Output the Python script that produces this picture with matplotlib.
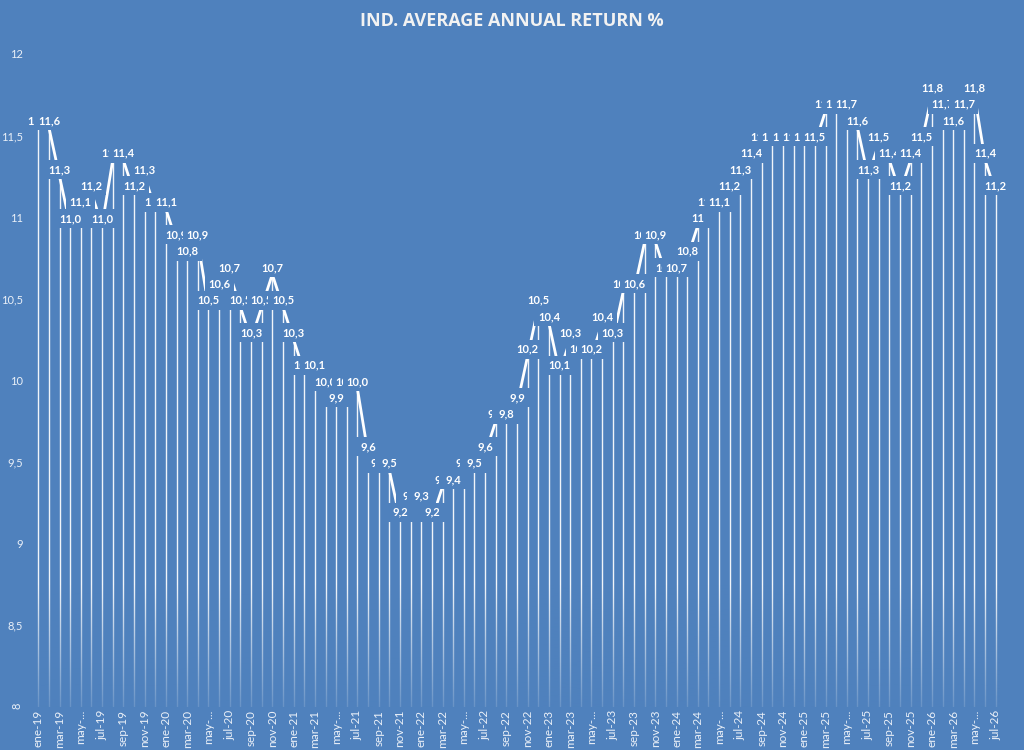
import numpy as np
import matplotlib.pyplot as plt
import matplotlib.colors as mcolors
from matplotlib.patches import Rectangle

plt.rcParams['font.family'] = ['Lato', 'DejaVu Sans']

fondo = "#4F81BD"

meses = ["ene", "feb", "mar", "abr", "may", "jun", "jul", "ago", "sep", "oct", "nov", "dic"]
anios = ["19", "20", "21", "22", "23", "24", "25", "26"]
periodos = [m + "-" + a for a in anios for m in meses][:91]

valores = [11.55, 11.55, 11.25, 10.95, 11.05, 11.15, 10.95, 11.35, 11.35, 11.15,
           11.25, 11.05, 11.05, 10.85, 10.75, 10.85, 10.45, 10.55, 10.65, 10.45,
           10.25, 10.45, 10.65, 10.45, 10.25, 10.05, 10.05, 9.95, 9.85, 9.95,
           9.95, 9.55, 9.45, 9.45, 9.15, 9.25, 9.25, 9.15, 9.35, 9.35,
           9.45, 9.45, 9.55, 9.75, 9.75, 9.85, 10.15, 10.45, 10.35, 10.05,
           10.25, 10.15, 10.15, 10.35, 10.25, 10.55, 10.55, 10.85, 10.85, 10.65,
           10.65, 10.75, 10.95, 11.05, 11.05, 11.15, 11.25, 11.35, 11.45, 11.45,
           11.45, 11.45, 11.45, 11.45, 11.65, 11.65, 11.65, 11.55, 11.25, 11.45,
           11.35, 11.15, 11.35, 11.45, 11.75, 11.65, 11.55, 11.65, 11.75, 11.35,
           11.15]

# etiquetas tal como aparecen en el grafico
etiquetas = ["11,6", "11,6", "11,3", "11,0", "11,1", "11,2", "11,0", "11,4", "11,4", "11,2",
             "11,3", "11,1", "11,1", "10,9", "10,8", "10,9", "10,5", "10,6", "10,7", "10,5",
             "10,3", "10,5", "10,7", "10,5", "10,3", "10,1", "10,1", "10,0", "9,9", "10,0",
             "10,0", "9,6", "9,5", "9,5", "9,2", "9,3", "9,3", "9,2", "9,4", "9,4",
             "9,5", "9,5", "9,6", "9,8", "9,8", "9,9", "10,2", "10,5", "10,4", "10,1",
             "10,3", "10,2", "10,2", "10,4", "10,3", "10,6", "10,6", "10,9", "10,9", "10,7",
             "10,7", "10,8", "11", "11,1", "11,1", "11,2", "11,3", "11,4", "11,5", "11,5",
             "11,5", "11,5", "11,5", "11,5", "11,7", "11,7", "11,7", "11,6", "11,3", "11,5",
             "11,4", "11,2", "11,4", "11,5", "11,8", "11,7", "11,6", "11,7", "11,8", "11,4",
             "11,2"]

yticks = [8, 8.5, 9, 9.5, 10, 10.5, 11, 11.5, 12]
ytick_labels = ["8", "8,5", "9", "9,5", "10", "10,5", "11", "11,5", "12"]

x = np.arange(len(valores))

fig = plt.figure(figsize=(10.24, 7.5), dpi=100, facecolor=fondo)
ax = fig.add_axes([34 / 1024, 43 / 750, 966 / 1024, 653 / 750])
ax.set_facecolor(fondo)
ax.set_xlim(-0.4, 90.4)
ax.set_ylim(8, 12)

ax.vlines(x, 8, valores, color="white", lw=1.0, alpha=0.92, zorder=2)
ax.plot(x, valores, color="white", lw=2.0, zorder=2)

# desvanecido de las lineas hacia abajo
rgb = mcolors.to_rgb(fondo)
grad = np.zeros((100, 1, 4))
grad[:, 0, :3] = rgb
grad[:, 0, 3] = np.linspace(0.0, 0.85, 100)
ax.imshow(grad, extent=[-0.4, 90.4, 8, 8.75], aspect="auto", origin="upper", zorder=3)

# tamano de un pixel en unidades de datos
px_x = 90.8 / 966
px_y = 4 / 653

for i in range(len(valores)):
    yc = valores[i] + 7 * px_y
    ax.add_patch(Rectangle((x[i] - 14.5 * px_x, yc - 9.5 * px_y), 29 * px_x, 19 * px_y,
                           fc=fondo, ec="none", zorder=5 + 2 * i))
    ax.text(x[i], yc, etiquetas[i], ha="center", va="center", color="white",
            fontsize=8, fontweight="bold", zorder=6 + 2 * i)

ax.set_yticks(yticks)
ax.set_yticklabels(ytick_labels)
ax.set_xticks(x[::2])
ax.set_xticklabels([p if not p.startswith("may") else "may-..." for p in periodos[::2]], rotation=90)
ax.tick_params(axis="y", length=0, pad=8, labelsize=8, labelcolor="#EAF0F8")
ax.tick_params(axis="x", length=0, pad=2, labelsize=8.5, labelcolor="#EAF0F8")
ax.get_yticklabels()[0].set_rotation(90)
for s in ax.spines.values():
    s.set_visible(False)

fig.text(0.5, 1 - 21 / 750, "IND. AVERAGE ANNUAL RETURN %", ha="center", va="center",
         color="#F2F2F2", fontsize=13, fontweight="bold", family=["Open Sans", "DejaVu Sans"])

fig.savefig("out.png", dpi=100, facecolor=fondo)
